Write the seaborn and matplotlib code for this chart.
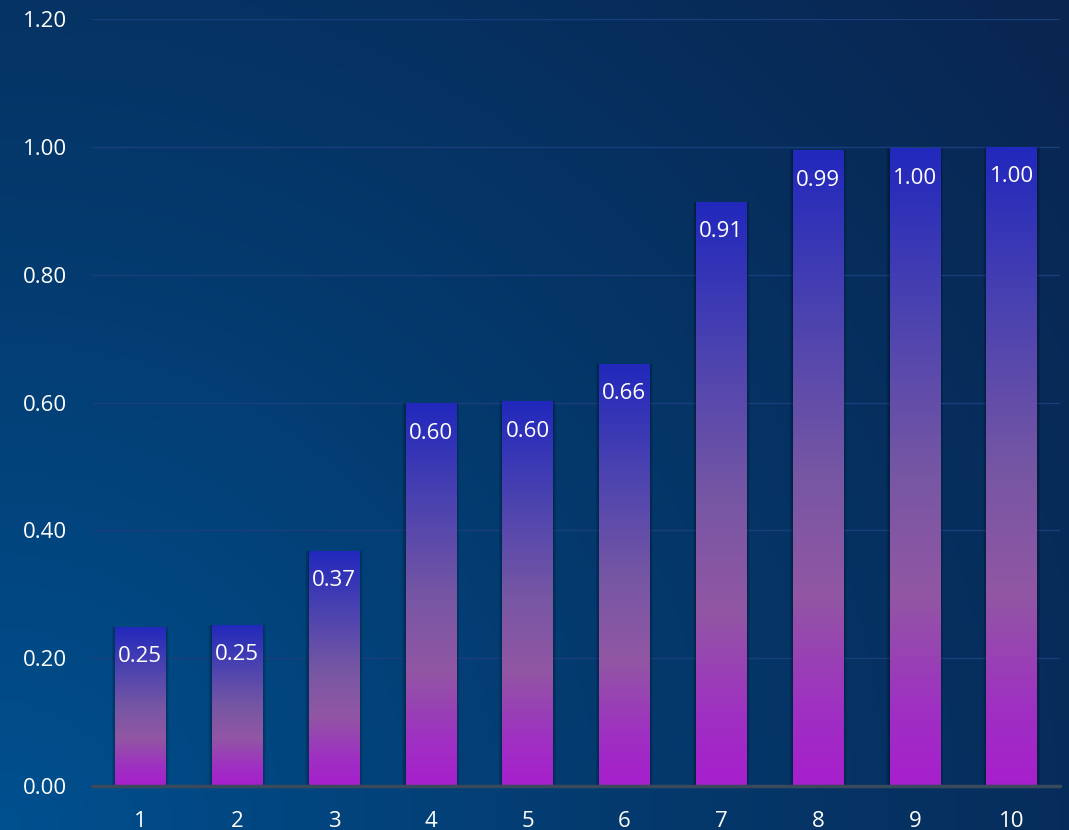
import numpy as np
import pandas as pd
import matplotlib
matplotlib.use("Agg")
import matplotlib.pyplot as plt
import seaborn as sns
from matplotlib.colors import LinearSegmentedColormap

# Data
categories = ["1", "2", "3", "4", "5", "6", "7", "8", "9", "10"]
scores = [0.249, 0.252, 0.368, 0.599, 0.602, 0.661, 0.914, 0.995, 0.998, 1.0]
y_ticks = [0.0, 0.2, 0.4, 0.6, 0.8, 1.0, 1.2]

df = pd.DataFrame({"category": categories, "score": scores})

sns.set_theme(style="dark")
plt.rcParams["font.family"] = ["Open Sans", "DejaVu Sans"]

fig = plt.figure(figsize=(10.69, 8.30), dpi=100)

# Diagonal background wash: lighter blue in the lower-left corner
bg = fig.add_axes([0, 0, 1, 1], zorder=0)
bg.set_axis_off()
gy, gx = np.mgrid[0:1:300j, 0:1:400j]
dist = np.sqrt((gx * 1.0) ** 2 + (gy * 0.8) ** 2)
bg_cmap = LinearSegmentedColormap.from_list(
    "bg", [(0.0, "#00508F"), (0.45, "#043A6E"), (0.8, "#072C5A"), (1.0, "#0A2550")]
)
bg.imshow(dist / dist.max(), cmap=bg_cmap, origin="lower", aspect="auto",
          extent=[0, 1, 0, 1], vmin=0, vmax=1)
bg.set_xlim(0, 1)
bg.set_ylim(0, 1)

ax = fig.add_axes([0.086, 0.053, 0.9056, 0.924], zorder=1)
ax.patch.set_alpha(0)

# Soft shadows behind the bars
for k in range(1, 7):
    ax.bar(range(len(categories)), scores, width=0.52 + 0.012 * k,
           color="black", alpha=0.05, zorder=1, linewidth=0)

sns.barplot(data=df, x="category", y="score", ax=ax, width=0.52,
            color="#8E5AA2", zorder=2, linewidth=0)

bar_cmap = LinearSegmentedColormap.from_list(
    "bar",
    [(0.0, "#A71FCD"), (0.12, "#9F30C2"), (0.3, "#9157A3"), (0.5, "#7556A4"),
     (0.75, "#4A42B0"), (1.0, "#2128BC")],
)
grad = np.linspace(0, 1, 256).reshape(-1, 1)
for patch in list(ax.patches):
    if patch.get_zorder() != 2:
        continue
    x0, y0 = patch.get_x(), patch.get_y()
    w, h = patch.get_width(), patch.get_height()
    im = ax.imshow(grad, cmap=bar_cmap, origin="lower", aspect="auto",
                   extent=[x0, x0 + w, y0, y0 + h], zorder=2.5)
    im.set_clip_path(patch)
    patch.set_facecolor("none")

# Value labels inside the top of each bar
for i, v in enumerate(scores):
    ax.annotate(f"{v:.2f}", (i, v), xytext=(0, -30), textcoords="offset pixels",
                ha="center", va="center", color="white", fontsize=16, zorder=4)

ax.set_xlim(-0.5, len(categories) - 0.5)
ax.set_ylim(0, 1.2)
ax.set_yticks(y_ticks)
ax.set_yticklabels([f"{t:.2f}" for t in y_ticks])
ax.yaxis.grid(True, color="#1A3E7C", linewidth=1, zorder=0)
ax.xaxis.grid(False)
ax.set_axisbelow(True)
for s in ax.spines.values():
    s.set_visible(False)
ax.axhline(0, color="#3A4A5C", linewidth=2.5, zorder=3, clip_on=False)

ax.tick_params(axis="both", length=0, colors="white", labelsize=16)
ax.tick_params(axis="y", pad=18)
ax.tick_params(axis="x", pad=18)
ax.set_xlabel("")
ax.set_ylabel("")

fig.savefig("out.png", dpi=100)
